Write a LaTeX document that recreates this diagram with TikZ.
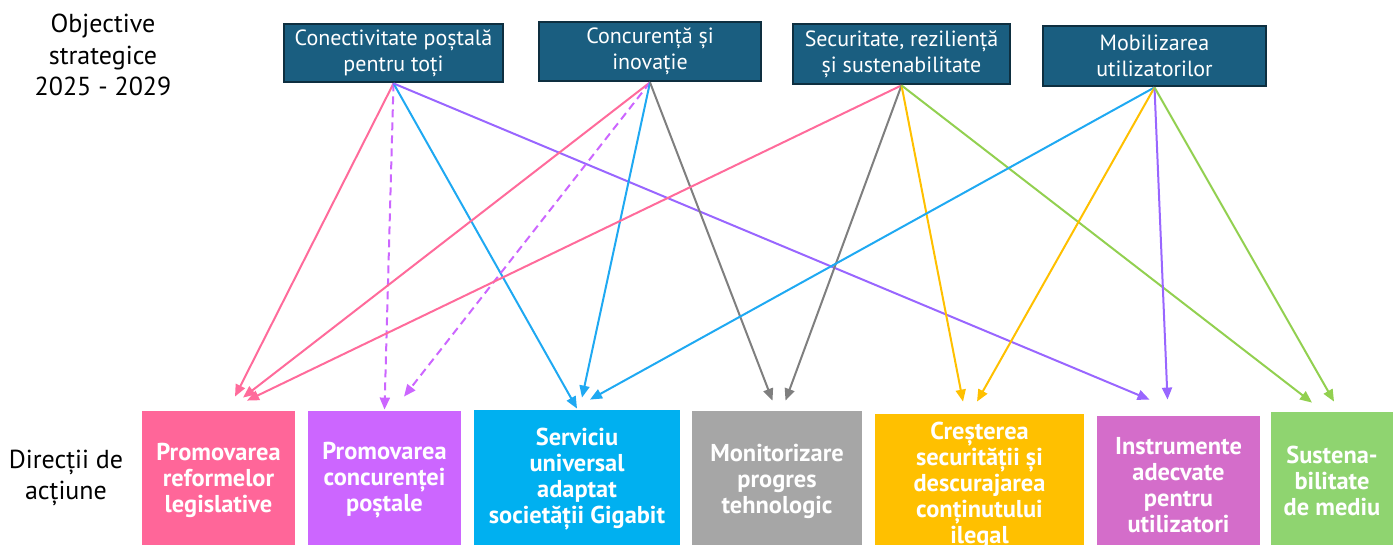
\documentclass[tikz,border=0pt]{standalone}
\usepackage{fontspec}
\setmainfont{PT Sans}
\usetikzlibrary{arrows.meta, positioning}
\definecolor{objblue}{HTML}{1A5E80}
\definecolor{objedge}{HTML}{0E2F40}
\definecolor{dirpink}{HTML}{FF6699}
\definecolor{dirpurple}{HTML}{CC66FF}
\definecolor{dirblue}{HTML}{00B0F0}
\definecolor{dirgray}{HTML}{A6A6A6}
\definecolor{dirorange}{HTML}{FFC000}
\definecolor{dirorchid}{HTML}{D46DCA}
\definecolor{dirgreen}{HTML}{8FD470}
\definecolor{linkpink}{HTML}{FF6B9B}
\definecolor{linkdash}{HTML}{CC66FF}
\definecolor{linkblue}{HTML}{1FA9F2}
\definecolor{linkviolet}{HTML}{9966FF}
\definecolor{linkgray}{HTML}{7F7F7F}
\definecolor{linkorange}{HTML}{FFC000}
\definecolor{linkgreen}{HTML}{92D050}
\newcommand{\px}{0.5pt}
\tikzset{
  objbox/.style={draw=objedge, line width=1.4pt, fill=objblue, text=white, align=center,
    font=\fontsize{11}{13}\selectfont, inner sep=0pt},
  dirbox/.style={text=white, align=center, font=\bfseries\fontsize{12.2}{13}\selectfont, inner sep=0pt},
  sidelabel/.style={align=center, font=\fontsize{13}{15.8}\selectfont, inner sep=0pt},
  link/.style={line width=1pt, -{Triangle[length=6pt,width=5pt]}},
  dashlink/.style={dash pattern=on 4pt off 2.5pt},
  solidlink/.style={solid},
}

\begin{document}
\begin{tikzpicture}[x=0.5pt, y=-0.5pt]
  \useasboundingbox (0,0) rectangle (1395,545);

  % Row titles
  \node[sidelabel] (objlabel) at (103,55) {Objective\\strategice\\2025 - 2029};
  \node[sidelabel] (dirlabel) at (66,478) {Direcții de\\acțiune};

  % Strategic objectives (top row)
  \node[objbox, minimum width=219*\px, minimum height=58*\px] (postal) at (393.5,53) {Conectivitate poștală\\pentru toți};
  \node[objbox, minimum width=222*\px, minimum height=59*\px] (compet) at (650,51.5) {Concurență și\\inovație};
  \node[objbox, minimum width=217*\px, minimum height=60*\px] (secur) at (901.5,54) {Securitate, reziliență\\și sustenabilitate};
  \node[objbox, minimum width=223*\px, minimum height=60*\px] (users) at (1154.5,56) {Mobilizarea\\utilizatorilor};

  % Action directions (bottom row) - boxes run past the lower edge
  \node[dirbox, fill=dirpink, minimum width=153*\px, minimum height=138*\px] (legal) at (218.5,480) {Promovarea\\reformelor\\legislative};
  \node[dirbox, fill=dirpurple, minimum width=153*\px, minimum height=138*\px] (postcomp) at (384.5,480) {Promovarea\\concurenței\\poștale};
  \node[dirbox, fill=dirblue, minimum width=206*\px, minimum height=138*\px] (gigabit) at (577,479) {Serviciu\\universal\\adaptat\\societății Gigabit};
  \node[dirbox, fill=dirgray, minimum width=170*\px, minimum height=140*\px] (tech) at (777,481) {Monitorizare\\progres\\tehnologic};
  \node[dirbox, fill=dirorange, minimum width=209*\px, minimum height=142*\px] (safety) at (979.5,485) {Creșterea\\securității și\\descurajarea\\conținutului\\ilegal};
  \node[dirbox, fill=dirorchid, minimum width=163*\px, minimum height=138*\px] (tools) at (1178.5,485) {Instrumente\\adecvate\\pentru\\utilizatori};
  \node[dirbox, fill=dirgreen, minimum width=122*\px, minimum height=138*\px] (env) at (1332,481) {Sustena-\\bilitate\\de mediu};

  % Links objective -> direction (tip offset from the box top)
  \foreach \src/\dst/\sty/\col/\dx/\dy in {
    postal/legal/solidlink/linkpink/16.5/14,
    postal/postcomp/dashlink/linkdash/0/1,
    postal/gigabit/solidlink/linkblue/0/1,
    postal/tools/solidlink/linkviolet/-29/16,
    compet/legal/solidlink/linkpink/24.5/13,
    compet/postcomp/dashlink/linkdash/19.5/14,
    compet/gigabit/solidlink/linkblue/5/12,
    compet/tech/solidlink/linkgray/-4.5/10,
    secur/legal/solidlink/linkpink/28.5/10,
    secur/tech/solidlink/linkgray/8.5/10,
    secur/safety/solidlink/linkorange/-16.5/12,
    secur/env/solidlink/linkgreen/-20/9,
    users/gigabit/solidlink/linkblue/13/10,
    users/safety/solidlink/linkorange/-2.5/12,
    users/tools/solidlink/linkviolet/-11/16,
    users/env/solidlink/linkgreen/2/10} {
    \draw[link, \col, \sty] (\src.south) -- ([xshift=\dx*\px, yshift=\dy*\px]\dst.north);
  }
\end{tikzpicture}
\end{document}
